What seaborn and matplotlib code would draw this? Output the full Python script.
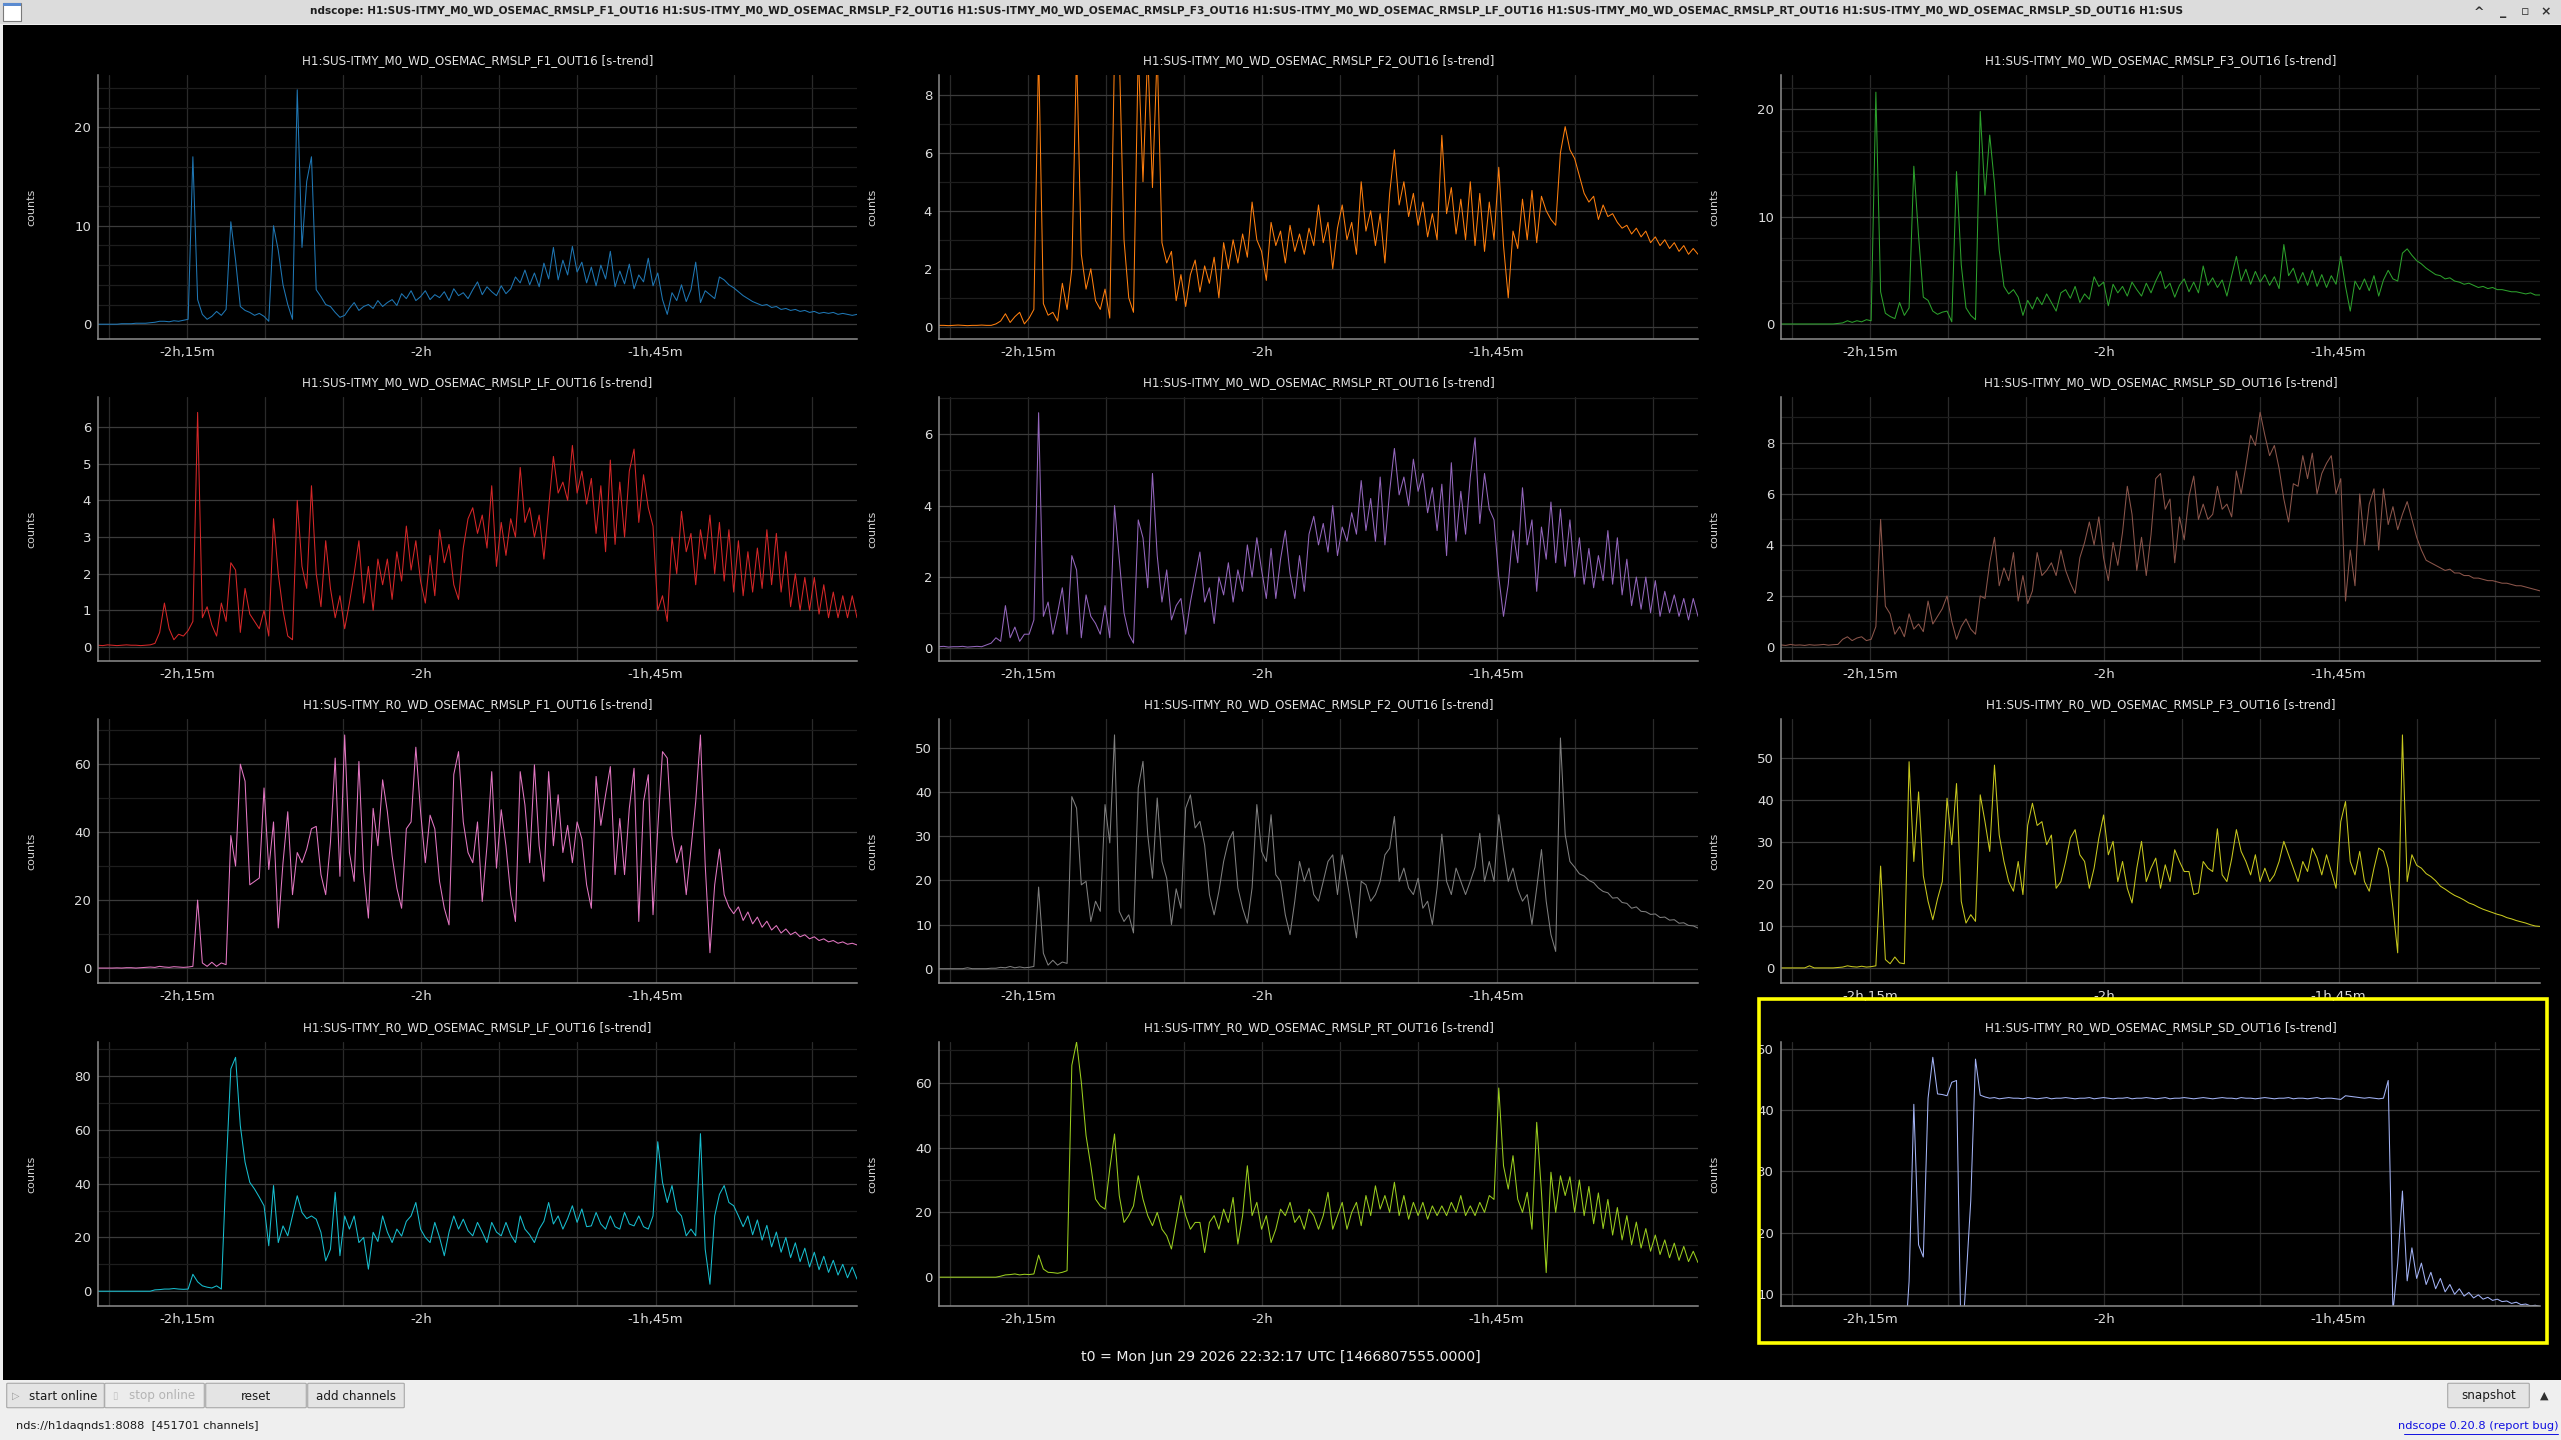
import numpy as np
import matplotlib
matplotlib.use("Agg")
import matplotlib.pyplot as plt
from matplotlib.patches import Rectangle, FancyBboxPatch
from matplotlib.lines import Line2D
from matplotlib.ticker import MultipleLocator, FuncFormatter
from matplotlib import font_manager as fm
import seaborn as sns

# time span shown on every plot, minutes relative to t0
T_START, T_END = -140.7, -92.1

channels = [
    "H1:SUS-ITMY_M0_WD_OSEMAC_RMSLP_F1_OUT16 [s-trend]",
    "H1:SUS-ITMY_M0_WD_OSEMAC_RMSLP_F2_OUT16 [s-trend]",
    "H1:SUS-ITMY_M0_WD_OSEMAC_RMSLP_F3_OUT16 [s-trend]",
    "H1:SUS-ITMY_M0_WD_OSEMAC_RMSLP_LF_OUT16 [s-trend]",
    "H1:SUS-ITMY_M0_WD_OSEMAC_RMSLP_RT_OUT16 [s-trend]",
    "H1:SUS-ITMY_M0_WD_OSEMAC_RMSLP_SD_OUT16 [s-trend]",
    "H1:SUS-ITMY_R0_WD_OSEMAC_RMSLP_F1_OUT16 [s-trend]",
    "H1:SUS-ITMY_R0_WD_OSEMAC_RMSLP_F2_OUT16 [s-trend]",
    "H1:SUS-ITMY_R0_WD_OSEMAC_RMSLP_F3_OUT16 [s-trend]",
    "H1:SUS-ITMY_R0_WD_OSEMAC_RMSLP_LF_OUT16 [s-trend]",
    "H1:SUS-ITMY_R0_WD_OSEMAC_RMSLP_RT_OUT16 [s-trend]",
    "H1:SUS-ITMY_R0_WD_OSEMAC_RMSLP_SD_OUT16 [s-trend]",
]

colors = ["#1f77b4", "#ff7f0e", "#2ca02c", "#d62728", "#9467bd", "#8c564b",
          "#e377c2", "#7f7f7f", "#c8c81e", "#17becf", "#9acd1e", "#a3b3f5"]

# counts (evenly spaced over the time span)
m0_f1 = [0, 0, 0, 0, 0, 0.05, 0.05, 0.05, 0.1, 0.1,
         0.1, 0.15, 0.2, 0.3, 0.3, 0.25, 0.35, 0.3, 0.4, 0.5,
         17.0, 2.5, 1.0, 0.5, 0.8, 1.3, 0.9, 1.5, 10.4, 6.5,
         1.8, 1.4, 1.2, 0.9, 1.1, 0.8, 0.3, 10.0, 7.5, 4.0,
         2.0, 0.5, 23.8, 7.8, 14.5, 17.0, 3.5, 2.8, 2.0, 1.8,
         1.2, 0.7, 0.9, 1.6, 2.2, 1.4, 1.8, 2.0, 1.6, 2.4,
         1.8, 2.2, 2.5, 1.9, 3.1, 2.6, 3.4, 2.4, 2.8, 3.4,
         2.5, 3.0, 2.7, 3.3, 2.4, 3.6, 2.9, 3.2, 2.6, 3.5,
         4.3, 3.0, 3.8, 3.3, 2.9, 3.9, 3.1, 3.6, 4.8, 4.2,
         5.5, 4.0, 5.2, 3.8, 6.2, 4.6, 7.8, 4.5, 6.5, 5.0,
         7.9, 5.3, 6.3, 4.2, 5.8, 3.9, 6.0, 4.6, 7.4, 3.8,
         5.4, 4.1, 6.1, 3.6, 5.0, 4.3, 6.7, 3.9, 5.2, 2.5,
         1.0, 3.2, 2.4, 4.0, 2.3, 3.5, 6.3, 2.2, 3.4, 3.0,
         2.6, 4.8, 4.5, 4.0, 3.7, 3.3, 2.9, 2.6, 2.3, 2.1,
         1.9, 2.0, 1.7, 1.8, 1.5, 1.6, 1.4, 1.5, 1.3, 1.4,
         1.2, 1.3, 1.1, 1.2, 1.1, 1.2, 1.0, 1.1, 1.0, 0.9,
         1.0]

m0_f2 = [0.05, 0.05, 0.04, 0.05, 0.06, 0.05, 0.04, 0.05, 0.05, 0.06,
         0.05, 0.05, 0.1, 0.2, 0.45, 0.15, 0.35, 0.5, 0.1, 0.3,
         0.6, 9.5, 0.8, 0.4, 0.5, 0.2, 1.5, 0.6, 2.0, 9.5,
         2.5, 1.3, 2.0, 0.9, 0.6, 1.3, 0.3, 9.5, 9.5, 3.0,
         1.0, 0.5, 9.5, 5.0, 9.5, 4.8, 9.5, 2.9, 2.2, 2.6,
         0.9, 1.8, 0.7, 1.8, 2.3, 1.2, 2.1, 1.5, 2.4, 1.0,
         2.9, 2.0, 3.0, 2.2, 3.2, 2.4, 4.3, 3.0, 2.6, 1.6,
         3.6, 2.8, 3.3, 2.2, 3.5, 2.6, 3.2, 2.5, 3.4, 2.8,
         4.2, 2.9, 3.6, 2.0, 3.4, 4.2, 3.0, 3.6, 2.5, 5.0,
         3.3, 4.0, 2.8, 3.9, 2.2, 4.6, 6.1, 4.2, 5.0, 3.8,
         4.6, 3.5, 4.3, 3.1, 3.9, 3.0, 6.6, 3.9, 4.8, 3.2,
         4.4, 3.0, 5.0, 2.8, 4.6, 2.6, 4.3, 3.0, 5.5, 2.8,
         1.0, 3.3, 2.7, 4.4, 3.0, 4.7, 2.9, 4.5, 4.0, 3.7,
         3.5, 6.0, 6.9, 6.1, 5.8, 5.2, 4.6, 4.3, 4.5, 3.7,
         4.2, 3.8, 3.9, 3.6, 3.4, 3.5, 3.2, 3.4, 3.1, 3.3,
         2.9, 3.1, 2.8, 3.0, 2.7, 2.9, 2.6, 2.8, 2.5, 2.7,
         2.5]

m0_f3 = [0, 0, 0, 0, 0, 0, 0, 0, 0, 0,
         0, 0, 0.05, 0.1, 0.3, 0.15, 0.3, 0.2, 0.4, 0.3,
         21.6, 3.0, 1.0, 0.7, 0.5, 2.0, 0.8, 1.5, 14.7, 8.2,
         2.5, 2.2, 1.2, 0.9, 1.1, 1.2, 0.2, 14.2, 5.5, 1.5,
         0.8, 0.4, 19.8, 12.0, 17.6, 13.1, 6.9, 3.5, 2.8, 3.2,
         2.5, 0.8, 2.2, 1.4, 2.5, 1.8, 2.8, 2.0, 1.2, 2.9,
         3.2, 2.4, 3.5, 2.0, 2.8, 2.3, 4.4, 3.5, 3.9, 1.7,
         3.7, 2.9, 3.5, 2.6, 3.9, 3.2, 2.6, 3.8, 2.9, 4.0,
         4.9, 3.3, 3.8, 2.5, 3.6, 4.2, 3.0, 3.9, 2.9, 5.4,
         3.6, 4.3, 3.4, 4.1, 2.6, 4.5, 6.3, 4.0, 5.1, 3.7,
         4.9, 3.9, 4.6, 3.6, 4.4, 3.3, 7.4, 4.5, 5.2, 3.8,
         4.8, 3.6, 5.0, 3.5, 4.6, 3.4, 4.5, 3.7, 6.3, 3.5,
         1.2, 4.0, 3.2, 4.2, 3.1, 4.5, 2.6, 4.1, 5.0, 4.2,
         4.0, 6.6, 7.0, 6.4, 5.9, 5.6, 5.2, 4.9, 4.6, 4.5,
         4.2, 4.3, 4.0, 3.9, 3.7, 3.8, 3.6, 3.4, 3.5, 3.3,
         3.4, 3.2, 3.2, 3.1, 3.0, 3.0, 2.9, 2.8, 2.9, 2.7,
         2.7]

m0_lf = [0.05, 0.04, 0.06, 0.05, 0.04, 0.05, 0.06, 0.05, 0.05, 0.04,
         0.05, 0.06, 0.1, 0.4, 1.2, 0.5, 0.2, 0.35, 0.3, 0.45,
         0.7, 6.4, 0.8, 1.1, 0.6, 0.3, 1.2, 0.7, 2.3, 2.1,
         0.4, 1.6, 0.9, 0.7, 0.5, 1.0, 0.3, 3.5, 2.0, 1.0,
         0.3, 0.2, 4.0, 2.2, 1.6, 4.4, 2.0, 1.1, 2.9, 1.6,
         0.8, 1.4, 0.5, 1.2, 2.0, 2.9, 1.2, 2.2, 1.0, 2.4,
         1.7, 2.4, 1.3, 2.6, 1.8, 3.3, 2.1, 2.9, 1.8, 1.2,
         2.5, 1.4, 3.2, 2.3, 2.8, 1.7, 1.3, 2.7, 3.5, 3.8,
         3.1, 3.6, 2.7, 4.4, 2.2, 3.4, 2.5, 3.5, 3.0, 4.9,
         3.4, 3.8, 3.0, 3.6, 2.4, 3.8, 5.2, 4.2, 4.5, 4.0,
         5.5, 4.2, 4.8, 3.9, 4.6, 3.1, 4.4, 2.6, 5.1, 2.8,
         4.5, 3.0, 4.8, 5.4, 3.4, 4.7, 3.8, 3.3, 1.0, 1.4,
         0.7, 3.0, 2.0, 3.7, 2.6, 3.1, 1.7, 3.2, 2.4, 3.6,
         2.0, 3.4, 1.8, 3.2, 1.5, 2.9, 1.4, 2.6, 1.5, 2.7,
         1.6, 3.2, 1.7, 3.1, 1.5, 2.6, 1.1, 2.0, 1.0, 1.9,
         1.0, 1.9, 0.9, 1.7, 0.8, 1.5, 0.8, 1.4, 0.8, 1.4,
         0.8]

m0_rt = [0.05, 0.06, 0.04, 0.05, 0.05, 0.06, 0.04, 0.05, 0.06, 0.05,
         0.1, 0.15, 0.3, 0.2, 1.2, 0.3, 0.6, 0.2, 0.4, 0.4,
         0.8, 6.6, 0.9, 1.3, 0.4, 1.0, 1.7, 0.4, 2.6, 2.2,
         0.3, 1.5, 0.9, 0.7, 0.4, 1.2, 0.3, 4.0, 2.5, 1.0,
         0.4, 0.15, 3.6, 3.1, 1.7, 4.9, 2.6, 1.3, 2.2, 0.8,
         1.2, 1.4, 0.4, 1.3, 2.0, 2.7, 1.3, 1.7, 0.7, 2.0,
         1.5, 2.4, 1.3, 2.2, 1.6, 2.9, 2.0, 3.1, 2.2, 1.4,
         2.8, 1.4, 2.5, 3.3, 2.1, 1.4, 2.6, 1.6, 3.2, 3.7,
         2.9, 3.5, 2.7, 4.0, 2.6, 3.4, 3.0, 3.8, 3.2, 4.7,
         3.3, 4.2, 3.0, 4.8, 2.9, 4.4, 5.6, 4.3, 4.8, 4.0,
         5.3, 4.4, 4.9, 3.8, 4.5, 3.3, 4.6, 2.6, 5.2, 3.0,
         4.4, 3.2, 4.8, 5.9, 3.5, 4.9, 3.9, 3.6, 2.0, 0.9,
         1.8, 3.3, 2.4, 4.5, 2.9, 3.6, 1.6, 3.4, 2.5, 4.1,
         2.4, 3.9, 2.3, 3.6, 2.0, 3.1, 1.8, 2.8, 1.7, 2.6,
         1.9, 3.3, 1.8, 3.1, 1.5, 2.5, 1.2, 2.0, 1.1, 2.0,
         1.0, 1.9, 0.9, 1.6, 1.0, 1.5, 0.9, 1.4, 0.8, 1.4,
         0.9]

m0_sd = [0.08, 0.06, 0.1, 0.07, 0.08, 0.06, 0.09, 0.07, 0.08, 0.1,
         0.07, 0.09, 0.1, 0.3, 0.4, 0.25, 0.35, 0.4, 0.25, 0.3,
         0.8, 5.0, 1.6, 1.3, 0.5, 0.8, 0.4, 1.3, 0.7, 0.9,
         0.6, 1.8, 0.9, 1.2, 1.5, 2.0, 1.0, 0.3, 0.8, 1.1,
         0.7, 0.5, 2.0, 1.9, 3.3, 4.3, 2.4, 3.1, 2.6, 3.7,
         1.8, 2.8, 1.7, 2.2, 3.7, 2.8, 3.0, 3.3, 2.8, 3.8,
         3.0, 2.5, 2.1, 3.5, 4.1, 4.9, 4.0, 5.1, 3.5, 2.6,
         4.1, 3.2, 4.5, 6.3, 5.2, 3.0, 4.3, 2.8, 4.4, 6.6,
         6.8, 5.4, 5.8, 3.3, 5.1, 4.2, 5.9, 6.7, 5.0, 5.6,
         5.0, 5.2, 6.3, 5.4, 5.6, 5.1, 6.9, 6.0, 7.1, 8.3,
         7.9, 9.2, 8.3, 7.5, 7.9, 7.0, 5.8, 4.9, 6.4, 6.3,
         7.5, 6.6, 7.6, 6.0, 6.8, 7.2, 7.5, 6.0, 6.6, 1.8,
         3.8, 2.4, 6.0, 4.0, 5.6, 6.2, 3.8, 6.2, 4.8, 5.5,
         4.6, 5.2, 5.7, 5.0, 4.3, 3.8, 3.4, 3.3, 3.2, 3.1,
         3.0, 3.05, 2.9, 2.9, 2.8, 2.8, 2.7, 2.7, 2.65, 2.6,
         2.6, 2.55, 2.5, 2.5, 2.45, 2.4, 2.4, 2.35, 2.3, 2.25,
         2.2]

r0_f1 = [0, 0, 0, 0, 0.05, 0, 0.1, 0.1, 0, 0.1,
         0.2, 0.3, 0.2, 0.5, 0.3, 0.2, 0.4, 0.3, 0.2, 0.3,
         0.5, 20.0, 1.5, 0.5, 1.7, 0.5, 1.5, 1.0, 39.0, 30.0,
         60.0, 55.0, 24.5, 25.5, 26.5, 53.0, 29.0, 43.0, 11.8, 31.0,
         46.0, 21.6, 34.0, 31.0, 35.0, 41.0, 41.7, 27.5, 21.6, 37.0,
         61.8, 27.0, 68.6, 34.0, 25.5, 60.8, 28.4, 14.7, 47.0, 36.0,
         55.4, 46.0, 33.0, 23.5, 17.6, 41.0, 43.0, 65.0, 46.0, 31.0,
         45.0, 41.0, 25.5, 17.6, 12.7, 57.0, 63.7, 43.0, 34.0, 31.0,
         43.0, 19.6, 36.0, 57.8, 29.4, 46.6, 36.0, 21.6, 13.7, 57.8,
         48.0, 31.0, 59.8, 36.0, 25.5, 57.8, 36.0, 51.0, 34.0, 42.0,
         31.0, 43.0, 38.0, 24.5, 17.6, 56.4, 42.0, 51.0, 59.3, 27.5,
         44.0, 27.5, 47.0, 58.8, 13.7, 49.0, 56.9, 15.7, 41.0, 63.7,
         61.8, 39.0, 31.0, 36.0, 21.6, 35.0, 49.0, 68.6, 30.4, 4.5,
         24.5, 35.0, 21.6, 18.0, 16.0, 18.0, 14.0, 16.5, 13.0, 15.0,
         12.0, 13.8, 11.2, 12.5, 10.3, 11.5, 9.8, 10.6, 9.2, 9.8,
         8.6, 9.2, 8.1, 8.6, 7.7, 8.1, 7.3, 7.7, 7.0, 7.3,
         6.8]

r0_f2 = [0, 0, 0, 0, 0, 0, 0.2, 0, 0, 0,
         0, 0.1, 0.1, 0.3, 0.2, 0.5, 0.2, 0.4, 0.2, 0.3,
         0.5, 18.5, 3.5, 0.8, 1.9, 0.8, 1.5, 1.2, 39.0, 36.4,
         19.0, 19.8, 10.7, 15.3, 13.0, 37.2, 28.5, 53.0, 13.0, 10.7,
         12.2, 8.1, 41.0, 47.0, 30.4, 20.5, 38.7, 24.3, 20.5, 10.0,
         18.1, 13.7, 36.4, 39.4, 31.9, 33.4, 28.0, 16.8, 12.2, 17.5,
         24.3, 28.9, 31.1, 18.3, 13.7, 10.3, 18.3, 37.2, 26.6, 24.3,
         34.9, 21.3, 19.8, 12.2, 7.7, 15.3, 24.3, 19.8, 22.8, 16.8,
         15.3, 19.8, 24.3, 25.8, 16.8, 25.8, 20.0, 13.7, 7.0, 19.8,
         19.0, 15.3, 16.8, 19.8, 25.8, 27.3, 34.5, 19.8, 22.8, 18.3,
         16.8, 20.5, 13.7, 15.3, 10.0, 18.3, 30.5, 19.8, 16.8, 22.8,
         19.8, 16.8, 19.8, 23.0, 30.7, 19.8, 24.3, 19.8, 34.9, 27.0,
         19.8, 22.8, 18.0, 15.3, 16.8, 10.0, 18.3, 27.0, 15.3, 7.7,
         3.9, 52.3, 30.4, 24.3, 23.0, 21.5, 21.0, 20.0, 19.5, 18.3,
         17.5, 17.2, 16.0, 16.1, 15.0, 14.8, 13.7, 14.0, 13.0, 12.9,
         12.3, 12.4, 11.6, 11.7, 11.0, 11.1, 10.3, 10.4, 9.8, 9.7,
         9.2]

r0_f3 = [0, 0, 0, 0, 0, 0, 0.5, 0, 0, 0,
         0, 0, 0.1, 0.2, 0.5, 0.3, 0.2, 0.4, 0.2, 0.3,
         0.5, 24.3, 2.0, 1.0, 2.6, 1.2, 1.0, 49.2, 25.4, 42.0,
         22.0, 15.9, 11.5, 16.5, 20.6, 40.5, 29.4, 44.0, 15.9, 10.7,
         12.7, 11.1, 41.3, 34.9, 27.8, 48.4, 31.7, 25.4, 20.6, 18.3,
         25.4, 17.5, 34.0, 39.3, 34.0, 34.9, 29.4, 31.7, 19.0, 20.6,
         25.4, 31.0, 33.0, 27.0, 25.4, 19.0, 23.8, 31.0, 36.5, 27.0,
         30.2, 20.6, 25.4, 19.0, 15.5, 23.8, 30.2, 20.6, 23.8, 26.2,
         19.0, 24.6, 20.6, 28.2, 25.4, 23.0, 23.0, 17.5, 17.9, 25.4,
         23.8, 23.0, 33.2, 22.2, 20.6, 26.0, 33.0, 27.8, 25.4, 22.2,
         27.0, 20.6, 23.8, 20.6, 22.2, 25.4, 30.2, 27.0, 23.8, 20.6,
         25.4, 23.0, 28.6, 26.2, 22.2, 27.0, 23.0, 19.0, 34.9, 39.7,
         25.4, 22.2, 27.8, 20.6, 18.3, 23.8, 28.6, 27.8, 23.8, 14.3,
         3.6, 55.6, 20.6, 27.0, 24.5, 23.8, 22.5, 21.8, 20.8, 19.5,
         18.8, 18.0, 17.3, 16.8, 16.2, 15.5, 15.1, 14.5, 14.0, 13.6,
         13.2, 12.8, 12.5, 12.0, 11.7, 11.3, 11.0, 10.7, 10.3, 10.0,
         9.9]

r0_lf = [0, 0, 0, 0, 0, 0, 0, 0, 0, 0,
         0, 0, 0.5, 0.6, 0.8, 0.8, 1.0, 0.8, 0.7, 0.8,
         6.3, 3.5, 2.0, 1.5, 1.2, 2.0, 0.8, 45.0, 82.7, 87.0,
         61.6, 48.0, 40.5, 38.0, 35.0, 31.8, 16.9, 39.3, 18.1, 24.3,
         20.6, 28.0, 35.5, 29.3, 27.0, 28.0, 26.8, 21.9, 11.3, 15.6,
         36.8, 13.2, 28.0, 23.1, 28.0, 18.1, 20.0, 8.2, 21.9, 18.5,
         28.0, 22.0, 18.1, 23.1, 20.5, 26.0, 28.0, 33.0, 23.1, 20.0,
         18.1, 25.6, 20.0, 13.2, 22.0, 28.0, 23.1, 26.8, 22.5, 20.6,
         25.6, 22.0, 18.1, 25.6, 22.0, 20.6, 25.6, 21.0, 18.1, 28.0,
         23.1, 21.0, 18.1, 23.1, 26.0, 33.0, 25.0, 28.0, 23.1, 27.0,
         31.8, 25.6, 30.6, 24.0, 24.3, 29.3, 25.0, 23.1, 28.0, 24.0,
         23.1, 29.3, 25.0, 24.3, 28.0, 24.0, 23.1, 28.0, 55.6, 40.5,
         33.0, 39.3, 30.0, 28.0, 20.6, 23.1, 20.6, 58.6, 15.6, 2.6,
         28.0, 36.0, 39.3, 33.0, 31.8, 28.0, 24.0, 28.0, 21.0, 26.5,
         19.0, 24.5, 16.5, 22.0, 14.5, 20.0, 12.5, 18.0, 11.0, 16.0,
         9.0, 14.5, 8.0, 13.0, 7.0, 11.5, 6.0, 10.0, 5.0, 9.0,
         4.5]

r0_rt = [0, 0, 0, 0, 0, 0, 0, 0, 0, 0,
         0, 0, 0, 0.3, 0.7, 0.8, 1.0, 0.7, 0.9, 0.8,
         1.0, 6.8, 2.5, 1.5, 1.4, 1.2, 1.5, 2.0, 65.4, 72.6,
         60.2, 43.7, 34.4, 24.1, 22.0, 21.0, 33.4, 44.2, 25.2, 16.9,
         19.0, 22.0, 31.3, 24.1, 19.0, 15.9, 20.0, 14.8, 12.8, 8.7,
         16.9, 25.2, 19.0, 14.8, 16.9, 16.9, 7.6, 16.9, 19.0, 14.8,
         21.0, 16.9, 24.6, 10.2, 19.0, 34.4, 19.0, 23.1, 14.8, 19.0,
         10.7, 14.8, 21.0, 19.0, 23.1, 16.9, 19.0, 14.8, 21.0, 19.0,
         14.8, 19.0, 26.2, 14.8, 19.0, 23.1, 14.8, 20.0, 23.1, 15.9,
         25.2, 19.0, 28.2, 21.0, 25.2, 20.0, 29.3, 19.0, 25.2, 17.9,
         23.1, 19.0, 23.1, 17.9, 22.0, 19.0, 22.0, 19.0, 23.1, 20.0,
         25.2, 19.0, 22.0, 19.0, 23.1, 20.0, 25.2, 24.0, 58.4, 34.4,
         27.2, 37.5, 24.1, 20.0, 26.2, 14.8, 47.8, 26.2, 1.4, 32.4,
         20.0, 31.3, 25.2, 31.0, 20.0, 30.0, 19.0, 28.0, 16.5, 26.0,
         15.0, 24.0, 13.0, 21.5, 11.5, 19.0, 10.0, 17.0, 9.0, 15.0,
         8.0, 13.0, 7.0, 11.5, 6.0, 10.5, 5.2, 9.5, 4.8, 8.0,
         4.5]

r0_sd = [0, 0, 0, 0, 0, 0, 0, 0, 0, 0,
         0, 0, 0, 0, 0, 0, 0, 0, 0, 0,
         0, 0, 0, 0, 0, 0, 0, 12.0, 41.0, 18.0,
         16.0, 42.0, 48.7, 42.7, 42.6, 42.4, 44.6, 44.9, 0, 12.1,
         25.2, 48.4, 42.5, 42.2, 42.0, 42.1, 41.9, 42.0, 42.1, 42.0,
         42.0, 41.9, 42.1, 42.0, 41.9, 42.0, 42.1, 41.9, 42.0, 42.0,
         42.1, 42.0, 41.9, 42.0, 42.0, 42.1, 41.9, 42.0, 42.1, 42.0,
         41.9, 42.0, 42.0, 42.1, 41.9, 42.0, 42.0, 42.1, 42.0, 41.9,
         42.0, 42.1, 41.9, 42.0, 42.0, 42.1, 42.0, 41.9, 42.0, 42.1,
         42.0, 41.9, 42.0, 42.1, 42.0, 42.0, 41.9, 42.1, 42.0, 42.0,
         41.9, 42.0, 42.1, 42.0, 41.9, 42.0, 42.0, 42.1, 41.9, 42.0,
         42.0, 41.9, 42.0, 42.1, 41.9, 42.0, 42.0, 41.9, 41.8, 42.4,
         42.3, 42.2, 42.1, 42.0, 42.1, 42.0, 41.9, 42.0, 44.9, 7.0,
         15.0, 26.8, 12.1, 17.5, 12.5, 15.0, 11.5, 13.5, 10.8, 12.5,
         10.3, 11.5, 9.9, 10.8, 9.6, 10.2, 9.3, 9.8, 9.1, 9.4,
         8.9, 9.1, 8.7, 8.8, 8.4, 8.6, 8.2, 8.3, 8.0, 8.1,
         7.9]

traces = [m0_f1, m0_f2, m0_f3, m0_lf, m0_rt, m0_sd,
          r0_f1, r0_f2, r0_f3, r0_lf, r0_rt, r0_sd]

y_limits = [(-1.5, 25.3), (-0.42, 8.68), (-1.4, 23.2), (-0.38, 6.82),
            (-0.35, 7.04), (-0.55, 9.8), (-4.4, 73.3), (-3.25, 56.6),
            (-3.6, 59.4), (-5.5, 92.7), (-8.9, 72.6), (7.98, 51.2)]
y_major = [10, 2, 10, 1, 2, 2, 20, 10, 10, 20, 20, 10]
y_minor = [2, 1, 2, None, 1, 1, 10, None, None, 10, 10, None]


def fmt_time(m, pos=None):
    total = int(round(-m))
    h, mm = divmod(total, 60)
    return f"-{h}h,{mm}m" if mm else f"-{h}h"


W, H = 2561, 1440

sns.set_theme(style="dark", rc={"axes.facecolor": "black",
                                "figure.facecolor": "black"})
names = {f.name for f in fm.fontManager.ttflist}
NARROW = "Liberation Sans Narrow" if "Liberation Sans Narrow" in names else "DejaVu Sans"
plt.rcParams["font.family"] = ["DejaVu Sans"]

fig = plt.figure(figsize=(W / 100, H / 100), dpi=100)
fig.patch.set_facecolor("#efefef")


def px_box(x0, y0, x1, y1):
    # pixel box (top-left origin) -> figure fraction rect
    return [x0 / W, 1 - y1 / H, (x1 - x0) / W, (y1 - y0) / H]


def add_rect(x0, y0, x1, y1, **kw):
    l, b, w, h = px_box(x0, y0, x1, y1)
    r = Rectangle((l, b), w, h, transform=fig.transFigure, **kw)
    fig.patches.append(r)
    return r


# window chrome
add_rect(3, 25, W, 1380, facecolor="black", edgecolor="none", zorder=-10)
add_rect(0, 0, W, 24, facecolor="#dcdcdc", edgecolor="none", zorder=-10)
add_rect(3, 3, 21, 21, facecolor="white", edgecolor="#7a7a7a", lw=0.8, zorder=-9)
add_rect(3, 3, 21, 6, facecolor="#5a8ad0", edgecolor="none", zorder=-9)
fig.text(1247 / W, 1 - 11 / H,
         "ndscope: H1:SUS-ITMY_M0_WD_OSEMAC_RMSLP_F1_OUT16 H1:SUS-ITMY_M0_WD_OSEMAC_RMSLP_F2_OUT16 "
         "H1:SUS-ITMY_M0_WD_OSEMAC_RMSLP_F3_OUT16 H1:SUS-ITMY_M0_WD_OSEMAC_RMSLP_LF_OUT16 "
         "H1:SUS-ITMY_M0_WD_OSEMAC_RMSLP_RT_OUT16 H1:SUS-ITMY_M0_WD_OSEMAC_RMSLP_SD_OUT16 H1:SUS",
         ha="center", va="center", fontsize=7.6, fontweight="bold", color="#1e1e1e",
         family=NARROW)
for x, s in [(2479, "^"), (2503, "_"), (2525, "▫"), (2546, "×")]:
    fig.text(x / W, 1 - 12 / H, s, ha="center", va="center", fontsize=9,
             fontweight="bold", color="#303030")

col_left = [98, 939, 1781]
row_top = [75, 397, 719, 1042]
AX_W, AX_H = 759, 264

for i, vals in enumerate(traces):
    r, c = divmod(i, 3)
    x0, y0 = col_left[c], row_top[r]
    ax = fig.add_axes(px_box(x0, y0, x0 + AX_W, y0 + AX_H))
    ax.set_facecolor("black")
    t = np.linspace(T_START, T_END, len(vals))
    sns.lineplot(x=t, y=vals, ax=ax, color=colors[i], linewidth=0.75,
                 estimator=None, sort=False)
    ax.set_xlim(T_START, T_END)
    ax.set_ylim(*y_limits[i])
    ax.set_xlabel("")
    ax.set_ylabel("")

    ax.xaxis.set_major_locator(MultipleLocator(15))
    ax.xaxis.set_minor_locator(MultipleLocator(5))
    ax.xaxis.set_major_formatter(FuncFormatter(fmt_time))
    ax.yaxis.set_major_locator(MultipleLocator(y_major[i]))
    ax.yaxis.set_major_formatter(FuncFormatter(lambda v, p: f"{v:.0f}"))
    if y_minor[i]:
        ax.yaxis.set_minor_locator(MultipleLocator(y_minor[i]))

    ax.grid(False)
    ax.xaxis.grid(True, which="both", color="#2a2a2a", lw=0.9)
    ax.yaxis.grid(True, which="major", color="#3b3b3b", lw=0.9)
    ax.yaxis.grid(True, which="minor", color="#1d1d1d", lw=0.9)
    ax.set_axisbelow(True)

    ax.tick_params(which="both", length=0, colors="#dcdcdc", labelsize=9.5, pad=5)
    for lab in ax.get_xticklabels() + ax.get_yticklabels():
        lab.set_family(NARROW)
    for side in ("top", "right"):
        ax.spines[side].set_visible(False)
    for side in ("left", "bottom"):
        ax.spines[side].set_visible(True)
        ax.spines[side].set_color("#8c8c8c")
        ax.spines[side].set_linewidth(1.1)

    ax.text(0.5, 1 + 14 / AX_H, channels[i], transform=ax.transAxes,
            ha="center", va="center", color="#e2e2e2", fontsize=8.6, family=NARROW)
    ax.text(-67 / AX_W, 0.5, "counts", transform=ax.transAxes, rotation=90,
            ha="center", va="center", color="#d4d4d4", fontsize=8)

# selected plot highlight
add_rect(1759, 999, 2547, 1343, fill=False, edgecolor="#ffff00", lw=2.6, zorder=20)

fig.text(1281 / W, 1 - 1357 / H, "t0 = Mon Jun 29 2026 22:32:17 UTC [1466807555.0000]",
         ha="center", va="center", fontsize=10.2, color="#ececec")

# bottom control bar
buttons = [(8, 103, "start online", True), (106, 203, "stop online", False),
           (207, 305, "reset", True), (309, 403, "add channels", True),
           (2449, 2528, "snapshot", True)]
for bx0, bx1, label, enabled in buttons:
    l, b, w, h = px_box(bx0, 1384, bx1, 1407)
    fig.patches.append(FancyBboxPatch((l, b), w, h, boxstyle="round,pad=0.0005",
                                      transform=fig.transFigure,
                                      facecolor="#e4e4e4" if enabled else "#ececec",
                                      edgecolor="#a8a8a8", lw=0.8))
    fig.text((bx0 + bx1) / 2 / W + (0.003 if label.endswith("online") else 0),
             1 - 1396 / H, label, ha="center", va="center", fontsize=8.6,
             color="#1a1a1a" if enabled else "#b4b4b4", family=NARROW)
fig.text(16 / W, 1 - 1396 / H, "▷", ha="center", va="center", fontsize=7, color="#9a9a9a")
fig.text(115 / W, 1 - 1396 / H, "▯", ha="center", va="center", fontsize=7, color="#c0c0c0")
fig.text(2544 / W, 1 - 1396 / H, "▲", ha="center", va="center", fontsize=8, color="#303030")
fig.text(16 / W, 1 - 1426 / H, "nds://h1daqnds1:8088  [451701 channels]",
         ha="left", va="center", fontsize=8.2, color="#1a1a1a", family=NARROW)
fig.text(2558 / W, 1 - 1426 / H, "ndscope 0.20.8 (report bug)",
         ha="right", va="center", fontsize=8.2, color="#1010e0", family=NARROW)
fig.lines.append(Line2D([2404 / W, 2558 / W], [1 - 1434 / H, 1 - 1434 / H],
                        transform=fig.transFigure, color="#1010e0", lw=0.7))

fig.savefig("out.png", dpi=100, facecolor=fig.get_facecolor())
